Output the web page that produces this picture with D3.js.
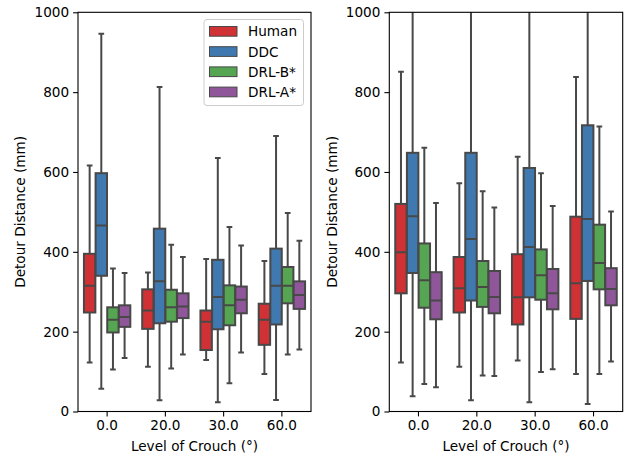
<!DOCTYPE html>
<html>
<head>
<meta charset="utf-8">
<script src="https://cdn.jsdelivr.net/npm/d3@7"></script>
<style>
  html, body { margin: 0; padding: 0; background: #fff; }
  svg { display: block; }
  text { font-family: "DejaVu Sans", sans-serif; fill: #000; }
</style>
</head>
<body>
<svg id="chart" width="628" height="457"></svg>
<script>
// Crouch levels on the x axis
const categories = ["0.0", "20.0", "30.0", "60.0"];
const seriesNames = ["Human", "DDC", "DRL-B*", "DRL-A*"];
const seriesColors = ["#cf3135", "#3f79b0", "#56a553", "#8f579a"];
const yTicks = [0, 200, 400, 600, 800, 1000];

// Box statistics per panel: [whiskerLow, q1, median, q3, whiskerHigh]
// Left panel
const leftHuman = [[123, 248, 315, 395, 616], [112, 207, 253, 306, 348], [129, 154, 225, 253, 382], [94, 167, 230, 270, 377]];
const leftDDC   = [[57, 340, 466, 597, 946], [28, 221, 326, 458, 813], [23, 206, 287, 380, 635], [29, 218, 315, 408, 690]];
const leftDRLB  = [[105, 198, 230, 261, 358], [108, 225, 261, 305, 418], [71, 216, 266, 316, 462], [143, 271, 315, 362, 497]];
const leftDRLA  = [[134, 212, 237, 266, 347], [143, 234, 263, 296, 387], [148, 246, 280, 313, 416], [155, 257, 292, 326, 428]];
// Right panel
const rightHuman = [[123, 296, 399, 520, 851], [112, 248, 309, 387, 572], [128, 218, 286, 394, 638], [94, 232, 321, 488, 838]];
const rightDDC   = [[38, 347, 489, 648, 1250], [28, 278, 432, 648, 1300], [23, 286, 412, 610, 1180], [19, 327, 482, 717, 1350]];
const rightDRLB  = [[69, 260, 329, 421, 661], [90, 262, 312, 377, 552], [99, 280, 341, 406, 597], [94, 306, 372, 468, 714]];
const rightDRLA  = [[61, 231, 278, 349, 522], [89, 246, 287, 352, 511], [106, 256, 296, 357, 515], [125, 266, 307, 359, 501]];

const panels = [
  { left: 78, right: 311, series: [leftHuman, leftDDC, leftDRLB, leftDRLA], legend: true, yLabelX: 20 },
  { left: 389.3, right: 622.7, series: [rightHuman, rightDDC, rightDRLB, rightDRLA], legend: false, yLabelX: 331.5 }
];

const plotTop = 12.3, plotBottom = 411.5;
const lineGray = "#484848";
const fontSize = 13.6;

const svg = d3.select("#chart");
const y = d3.scaleLinear().domain([0, 1000]).range([plotBottom, plotTop]);

panels.forEach((p, pi) => {
  const g = svg.append("g");
  const x = d3.scaleBand().domain(categories).range([p.left, p.right]).padding(0);
  const bw = x.bandwidth();
  const inner = d3.scaleBand().domain(seriesNames).range([-0.4 * bw, 0.4 * bw]).padding(0);
  const boxW = inner.bandwidth() * 0.98;
  const capW = boxW * 0.5;

  const clipId = "clip" + pi;
  svg.append("clipPath").attr("id", clipId)
    .append("rect").attr("x", p.left).attr("y", plotTop).attr("width", p.right - p.left).attr("height", plotBottom - plotTop);

  const marks = g.append("g").attr("clip-path", `url(#${clipId})`);

  seriesNames.forEach((name, si) => {
    categories.forEach((cat, ci) => {
      const [lo, q1, med, q3, hi] = p.series[si][ci];
      const cx = x(cat) + bw / 2 + inner(name) + inner.bandwidth() / 2;
      const bg = marks.append("g");
      // whiskers
      bg.append("line").attr("x1", cx).attr("x2", cx).attr("y1", y(q1)).attr("y2", y(lo))
        .attr("stroke", lineGray).attr("stroke-width", 2);
      bg.append("line").attr("x1", cx).attr("x2", cx).attr("y1", y(q3)).attr("y2", y(hi))
        .attr("stroke", lineGray).attr("stroke-width", 2);
      // caps
      [lo, hi].forEach(v => {
        bg.append("line").attr("x1", cx - capW / 2).attr("x2", cx + capW / 2).attr("y1", y(v)).attr("y2", y(v))
          .attr("stroke", lineGray).attr("stroke-width", 2);
      });
      // box
      bg.append("rect").attr("x", cx - boxW / 2).attr("width", boxW)
        .attr("y", y(q3)).attr("height", y(q1) - y(q3))
        .attr("fill", seriesColors[si]).attr("stroke", lineGray).attr("stroke-width", 2);
      // median
      bg.append("line").attr("x1", cx - boxW / 2).attr("x2", cx + boxW / 2).attr("y1", y(med)).attr("y2", y(med))
        .attr("stroke", lineGray).attr("stroke-width", 2);
    });
  });

  // axes
  const xAxis = d3.axisBottom(x).tickSize(4.9).tickPadding(4).tickSizeOuter(0);
  const gx = g.append("g").attr("transform", `translate(0,${plotBottom})`).call(xAxis);
  const yAxis = d3.axisLeft(y).tickValues(yTicks).tickFormat(d3.format("d")).tickSize(4.9).tickPadding(4).tickSizeOuter(0);
  const gy = g.append("g").attr("transform", `translate(${p.left},0)`).call(yAxis);
  [gx, gy].forEach(a => {
    a.select(".domain").remove();
    a.selectAll(".tick line").attr("stroke", "#000").attr("stroke-width", 1.1);
    a.selectAll(".tick text").attr("font-family", "DejaVu Sans").attr("font-size", fontSize).attr("fill", "#000");
  });

  // frame
  g.append("rect").attr("x", p.left).attr("y", plotTop).attr("width", p.right - p.left).attr("height", plotBottom - plotTop)
    .attr("fill", "none").attr("stroke", "#000").attr("stroke-width", 1.1);

  // axis labels
  g.append("text").attr("x", (p.left + p.right) / 2).attr("y", 451)
    .attr("text-anchor", "middle").attr("font-size", fontSize).text("Level of Crouch (°)");
  g.append("text").attr("transform", `translate(${p.yLabelX},${(plotTop + plotBottom) / 2}) rotate(-90)`)
    .attr("text-anchor", "middle").attr("dominant-baseline", "central").attr("font-size", fontSize).text("Detour Distance (mm)");

  if (p.legend) {
    const lg = g.append("g");
    lg.append("rect").attr("x", 204).attr("y", 19.5).attr("width", 99.5).attr("height", 86).attr("rx", 3)
      .attr("fill", "#fff").attr("fill-opacity", 0.8).attr("stroke", "#cccccc").attr("stroke-width", 1);
    seriesNames.forEach((name, si) => {
      const ry = 31.3 + si * 20.2;
      lg.append("rect").attr("x", 209.5).attr("y", ry - 4.8).attr("width", 27.5).attr("height", 9.7)
        .attr("fill", seriesColors[si]).attr("stroke", lineGray).attr("stroke-width", 1);
      lg.append("text").attr("x", 248).attr("y", ry).attr("dominant-baseline", "central")
        .attr("font-size", fontSize).text(name);
    });
  }
});
</script>
</body>
</html>
